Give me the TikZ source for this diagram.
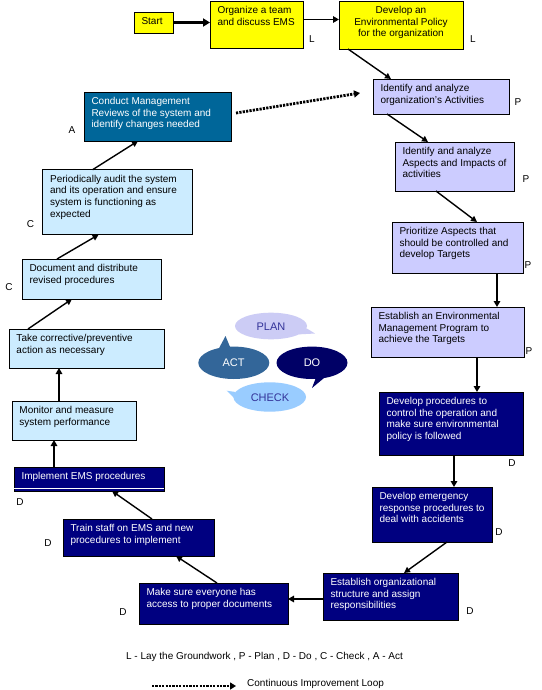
\documentclass[tikz,border=0pt]{standalone}
\usepackage{fontspec}
\setmainfont{Liberation Sans}
\usetikzlibrary{arrows.meta,calc}
\definecolor{yel}{HTML}{FFFF00}
\definecolor{lav}{HTML}{CCCCFF}
\definecolor{lblue}{HTML}{CCECFF}
\definecolor{mteal}{HTML}{006699}
\definecolor{mnavy}{HTML}{000080}
\definecolor{plancol}{HTML}{CCCCF5}
\definecolor{actcol}{HTML}{336699}
\definecolor{docol}{HTML}{000066}
\definecolor{checkcol}{HTML}{99CCFF}
\definecolor{pdcatext}{HTML}{333399}
\newcommand\boxfont{\fontsize{10}{11.7}\selectfont}
\newcommand\flowbox[8][\raggedright\leftskip=7.5pt\relax]{%
  \node[#3, anchor=north west, inner sep=0pt, outer sep=0pt] (#2) at (#4,#5)
  {\vbox to #7pt{\hsize=#6pt\parindent=0pt\hyphenpenalty=10000\exhyphenpenalty=10000\boxfont #1\vskip4.3pt\noindent\strut #8\par\vfil}};}
\tikzset{
  arr/.style={line width=1.4pt, -{Triangle[length=6pt,width=6pt]}},
  varr/.style={line width=1.8pt, -{Triangle[length=6pt,width=6.5pt]}},
  dotarr/.style={line width=2.8pt, dash pattern=on 2.2pt off 1.2pt, -{Triangle[length=6pt,width=7pt]}},
  ybox/.style={draw=black, line width=0.9pt, fill=yel},
  pbox/.style={draw=black, line width=0.8pt, fill=lav},
  cbox/.style={draw=black, line width=0.8pt, fill=lblue},
  dbox/.style={draw=black, line width=0.8pt, fill=mnavy, text=white},
  abox/.style={draw=black, line width=0.8pt, fill=mteal, text=white},
  lab/.style={font=\fontsize{10}{12}\selectfont, inner sep=0pt},
  pdca/.style={font=\fontsize{11}{12}\selectfont, inner sep=0pt},
}
\begin{document}
\begin{tikzpicture}[x=1pt,y=-1pt]
\useasboundingbox (0,0) rectangle (541,690);
\fill[white] (0,0) rectangle (541,690);

% boxes
\flowbox{start}{ybox}{134}{12}{39}{21}{Start}
\flowbox{organize}{ybox}{210}{1}{93}{47}{Organize a team\\and discuss EMS}
\flowbox[\centering]{develop}{ybox}{339}{1}{124}{48}{Develop an\\Environmental Policy\\for the organization}
\flowbox{activities}{pbox}{373}{79}{136}{35}{Identify and analyze\\organization's Activities}
\flowbox{conduct}{abox}{84}{92}{147}{49}{Conduct Management\\Reviews of the system and\\identify changes needed}
\flowbox{aspects}{pbox}{395}{142}{119}{49}{Identify and analyze\\Aspects and Impacts of\\activities}
\flowbox{audit}{cbox}{42.6}{169.7}{150.2}{65}{Periodically audit the system\\and its operation and ensure\\system is functioning as\\expected}
\flowbox{prioritize}{pbox}{392}{222}{131}{51}{Prioritize Aspects that\\should be controlled and\\develop Targets}
\flowbox{document}{cbox}{22}{259}{139}{40}{Document and distribute\\revised procedures}
\flowbox{emp}{pbox}{371}{307}{153}{50}{Establish an Environmental\\Management Program to\\achieve the Targets}
\flowbox{corrective}{cbox}{9}{329}{155}{39}{Take corrective/preventive\\action as necessary}
\flowbox{devproc}{dbox}{379}{392}{144}{63}{Develop procedures to\\control the operation and\\make sure environmental\\policy is followed}
\flowbox{monitor}{cbox}{12}{401}{124}{39}{Monitor and measure\\system performance}
\flowbox{implement}{dbox}{14}{467}{150}{24}{Implement EMS procedures}
\flowbox{emergency}{dbox}{372}{487}{120}{55}{Develop emergency\\response procedures to\\deal with accidents}
\flowbox{train}{dbox}{63}{519}{151}{37}{Train staff on EMS and new\\procedures to implement}
\flowbox{org}{dbox}{323}{573}{135}{47}{Establish organizational\\structure and assign\\responsibilities}
\flowbox{makesure}{dbox}{139}{583}{149}{41}{Make sure everyone has\\access to proper documents}
\draw[white, line width=0.7pt] ([yshift=2.2pt]implement.south west) -- ([yshift=2.2pt]implement.south east);

% phase labels
\node[lab] (l1) at (312,39) {L};
\node[lab] (l2) at (473,39) {L};
\node[lab] (p1) at (518,102) {P};
\node[lab] (a1) at (72,130) {A};
\node[lab] (p2) at (526,179) {P};
\node[lab] (c1) at (30.5,224) {C};
\node[lab] (c2) at (9,287) {C};
\node[lab] (p3) at (528,265) {P};
\node[lab] (p4) at (529,351) {P};
\node[lab] (d1) at (512,463) {D};
\node[lab] (d2) at (499,532) {D};
\node[lab] (d3) at (20,502) {D};
\node[lab] (d4) at (48,543) {D};
\node[lab] (d5) at (123,612) {D};
\node[lab] (d6) at (470,611) {D};

% connectors
\draw[line width=3pt, -{Triangle[length=7pt,width=8pt]}] (start.east) -- (start.east -| organize.west);
\draw[varr] ([yshift=5pt]organize.east) -- ([yshift=5pt]organize.east -| develop.west);
\draw[arr] ([xshift=9pt]develop.south west) -- ([xshift=18pt]activities.north west);
\draw[arr] ([xshift=14pt]activities.south west) -- ([xshift=33pt]aspects.north west);
\draw[arr] ([xshift=41pt]aspects.south west) -- ([xshift=85pt]prioritize.north west);
\draw[varr] ([xshift=-26pt]prioritize.south east) -- ([xshift=-26pt]prioritize.south east |- emp.north);
\draw[varr] ([xshift=106pt]emp.south west) -- ([xshift=106pt]emp.south west |- devproc.north);
\draw[varr] ([xshift=75pt]devproc.south west) -- ([xshift=75pt]devproc.south west |- emergency.north);
\draw[arr] ([xshift=75pt]emergency.south west) -- ([xshift=81pt]org.north west);
\draw[varr] ([yshift=-2.5pt]org.west) -- ([yshift=-2.5pt]org.west -| makesure.east);
\draw[arr] ([xshift=78pt]makesure.north west) -- ([xshift=113pt]train.south west);
\draw[arr] ([xshift=89pt]train.north west) -- ([xshift=98pt]implement.south west);
\draw[varr] ([xshift=40pt]implement.north west) -- ([xshift=40pt]implement.north west |- monitor.south);
\draw[varr] ([xshift=47pt]monitor.north west) -- ([xshift=47pt]monitor.north west |- corrective.south);
\draw[arr] ([xshift=19pt]corrective.north west) -- ([xshift=50pt]document.south west);
\draw[arr] ([xshift=35pt]document.north west) -- ([xshift=56pt]audit.south west);
\draw[arr] ([xshift=50pt]audit.north west) -- ([xshift=54pt]conduct.south west);
\draw[dotarr] ([xshift=5pt,yshift=3.5pt]conduct.east) -- ([xshift=-13pt,yshift=3.5pt]activities.west);

% PDCA bubbles
\fill[plancol] (271,326) ellipse [x radius=36pt, y radius=13.3pt];
\fill[plancol] (306.5,328.3) -- (315,333.5) -- (298.6,334.4) -- cycle;
\fill[actcol] (233.8,362.8) ellipse [x radius=35.5pt, y radius=16.2pt];
\fill[actcol] (230.4,347.8) -- (225.5,336) -- (218.5,349.2) -- cycle;
\fill[docol] (312,362.8) ellipse [x radius=35.5pt, y radius=16.2pt];
\fill[docol] (324.6,377.5) -- (312,388) -- (315.6,378.5) -- cycle;
\fill[checkcol] (269.7,397) ellipse [x radius=36.3pt, y radius=14.7pt];
\fill[checkcol] (235.6,392) -- (226.7,390.7) -- (234.5,398.3) -- cycle;
\node[pdca, text=pdcatext] (plan) at (271,326.5) {PLAN};
\node[pdca, text=white] (act) at (233.5,363) {ACT};
\node[pdca, text=white] (do) at (312,363) {DO};
\node[pdca, text=pdcatext] (check) at (270,397.5) {CHECK};

% legend
\node[lab] (legend) at (264.5,657) {L - Lay the Groundwork , P - Plan , D - Do , C - Check , A - Act};
\coordinate (lgA) at (152,686);
\coordinate (lgB) at (236,686);
\draw[dotarr] (lgA) -- (lgB);
\node[lab, anchor=west] (loop) at (247,684) {Continuous Improvement Loop};
\end{tikzpicture}
\end{document}
